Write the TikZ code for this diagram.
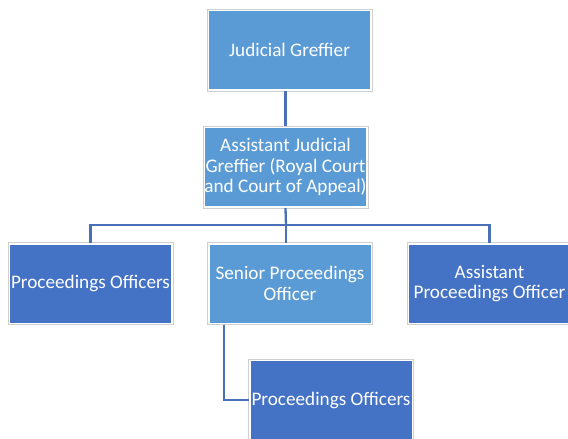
\documentclass[tikz,border=0pt]{standalone}
\usepackage{fontspec}
\setmainfont{Carlito}
\definecolor{lb}{HTML}{5B9BD5}
\definecolor{db}{HTML}{4472C4}
\definecolor{ln}{HTML}{4A70B8}
\definecolor{edge}{HTML}{CFCFCF}
\begin{document}
\begin{tikzpicture}[x=1pt,y=-1pt,
  box/.style={draw=white, line width=2pt, minimum width=163pt, minimum height=80pt,
    inner sep=0pt, text=white, font=\fontsize{19.2}{20.5}\selectfont, align=center},
  light/.style={box, fill=lb},
  dark/.style={box, fill=db},
  conn/.style={draw=ln, line width=2.3pt},
  rim/.style={draw=edge, line width=0.7pt}]
\useasboundingbox (0,0) rectangle (568,439);
\clip (0,0) rectangle (568,439);
\fill[white] (0,0) rectangle (568,439);
\coordinate (bus) at (286,225);
\coordinate (k) at (224,400);
\node[light] (jg) at (289.5,50) {Judicial Greffier};
\node[light] (ajg) at (285.5,167) {Assistant Judicial\\Greffier (Royal Court\\and Court of Appeal)};
\node[dark] (po1) at (90.5,283.5) {Proceedings Officers};
\node[light] (spo) at (290,283.5) {Senior Proceedings\\Officer};
\node[dark] (apo) at (489.5,283.5) {Assistant\\Proceedings Officer};
\node[dark] (po2) at (331,400) {Proceedings Officers};
\foreach \n in {jg,ajg,po1,spo,apo,po2}
  \draw[rim] (\n.south west) rectangle (\n.north east);
\draw[conn] (ajg.north) -- (ajg.north |- jg.south);
\draw[conn] (ajg.south) -- (bus);
\draw[conn] (po1.north) |- (bus) -| (apo.north);
\draw[conn] (bus) -- (bus |- spo.north);
\draw[conn] (spo.south -| k) |- (po2.west);
\end{tikzpicture}
\end{document}
